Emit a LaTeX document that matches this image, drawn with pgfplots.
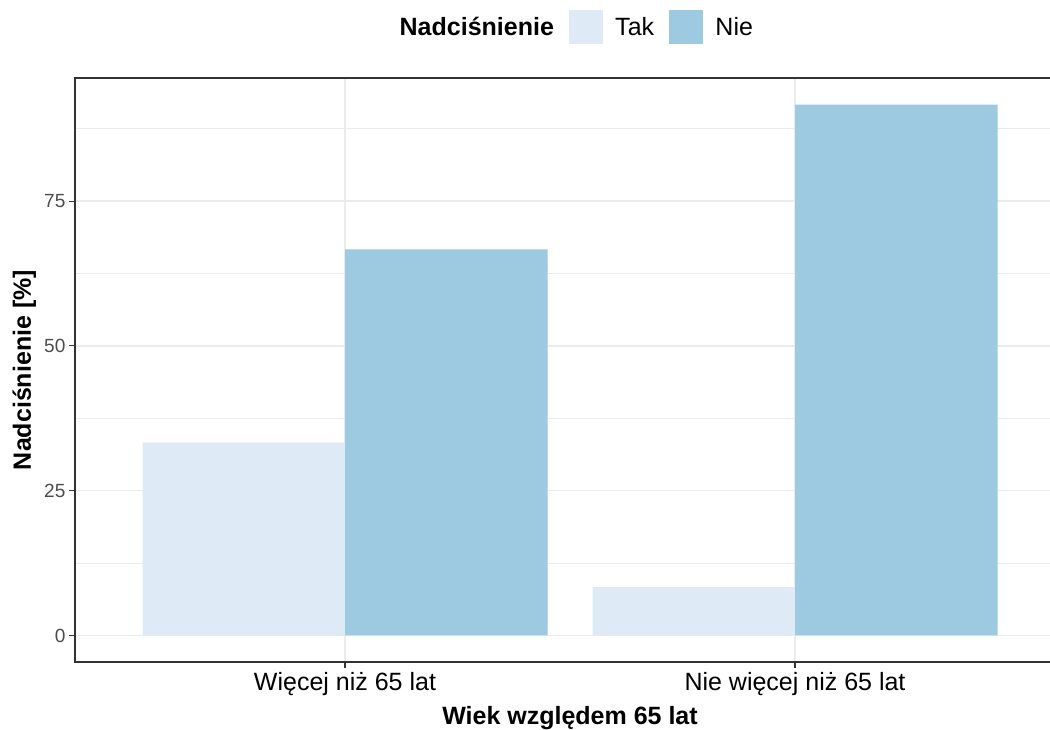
\documentclass[border=0pt]{standalone}
\usepackage{fontspec}
\setmainfont{Liberation Sans}
\usepackage{pgfplots}
\pgfplotsset{compat=1.18}
\definecolor{tak}{HTML}{DEEBF7}
\definecolor{nie}{HTML}{9ECAE1}
\definecolor{gridc}{HTML}{EBEBEB}
\definecolor{border}{HTML}{333333}
\definecolor{ticktext}{HTML}{4D4D4D}
\begin{document}
\begin{tikzpicture}[x=1pt,y=1pt]
\path[use as bounding box] (0,0) rectangle (787.5,547.5);
\clip (0,0) rectangle (787.5,547.5);
\begin{axis}[
  at={(56.25pt,51pt)}, anchor=south west,
  scale only axis, width=742.5pt, height=438pt,
  xmin=0.4, xmax=2.6, ymin=-4.583, ymax=96.25,
  ybar, bar width=0.45,
  xtick={1,2}, xticklabels={Więcej niż 65 lat, Nie więcej niż 65 lat},
  ytick={0,25,50,75}, minor ytick={12.5,37.5,62.5,87.5},
  xmajorgrids, ymajorgrids, yminorgrids,
  major grid style={gridc, line width=1pt},
  minor grid style={gridc, line width=0.55pt},
  axis line style={border, line width=1.1pt},
  tick style={border, line width=0.8pt},
  tick align=outside, major tick length=4.5pt, minor tick length=0pt,
  xtick pos=bottom, ytick pos=left,
  /pgf/number format/assume math mode=true,
  xticklabel style={font=\fontsize{18.75}{20}\selectfont, text=black},
  yticklabel style={font=\fontsize{14.3}{16}\selectfont, text=ticktext, inner sep=2.5pt},
  xlabel={Wiek względem 65 lat},
  ylabel={Nadciśnienie [\%]},
  every axis x label/.style={at={(rel axis cs:0.5,0)}, anchor=base, yshift=-47.25pt, font=\bfseries\fontsize{18.75}{20}\selectfont},
  every axis y label/.style={at={(rel axis cs:0,0.5)}, xshift=-33pt, rotate=90, anchor=base, font=\bfseries\fontsize{18.75}{20}\selectfont},
  legend columns=-1,
  legend style={at={(0.5,1.0873)}, anchor=center, draw=none, fill=none,
    font=\fontsize{18.75}{20}\selectfont,
    nodes={inner sep=0pt, anchor=base west},
    /tikz/every odd column/.append style={column sep=9.5pt},
    /tikz/every even column/.append style={column sep=11.5pt}},
]
\addlegendimage{empty legend}
\addlegendentry{\textbf{Nadciśnienie}}
\addplot[fill=tak, draw=none, bar shift=-0.225,
  legend image code/.code={\fill[tak] (0pt,-6pt) rectangle (25pt,19pt);}]
  coordinates {(1,33.33) (2,8.33)};
\addlegendentry{Tak}
\addplot[fill=nie, draw=none, bar shift=0.225,
  legend image code/.code={\fill[nie] (0pt,-6pt) rectangle (25pt,19pt);}]
  coordinates {(1,66.67) (2,91.67)};
\addlegendentry{Nie}
\end{axis}
\end{tikzpicture}
\end{document}
